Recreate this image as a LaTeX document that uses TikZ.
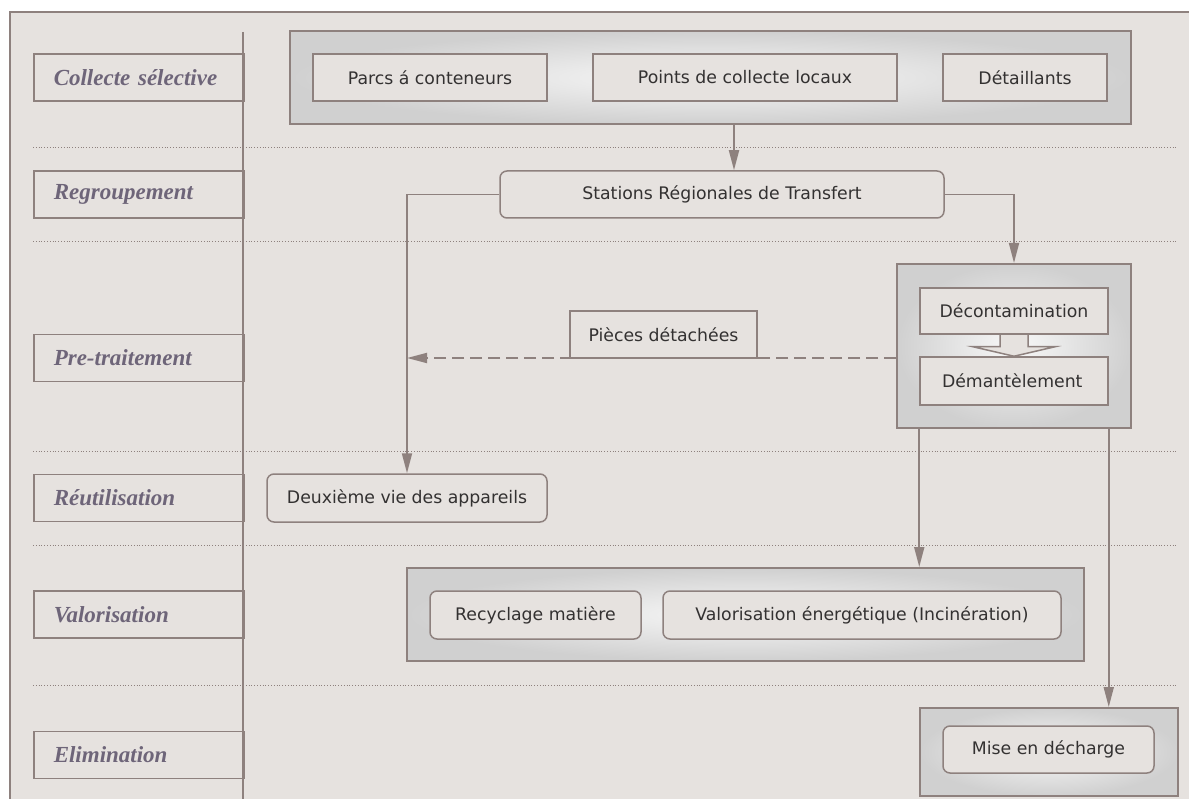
\documentclass[tikz,border=0pt]{standalone}
\usepackage{fontspec}
\setmainfont{DejaVu Sans}
\newfontfamily\labfont{Liberation Serif}
\usetikzlibrary{arrows.meta,calc}
\definecolor{bg}{HTML}{E6E2DF}
\definecolor{brd}{HTML}{8E817E}
\definecolor{labc}{HTML}{6E6579}
\definecolor{txt}{HTML}{333131}
\definecolor{shd}{HTML}{D0D0D0}
\definecolor{shl}{HTML}{F8F8F8}
\tikzset{
  lab/.style={draw=brd, line width=1.5pt, fill=bg, minimum height=47pt, text width=170pt,
    inner xsep=20pt, inner ysep=0pt, align=left, anchor=west,
    font=\labfont\bfseries\itshape\fontsize{23}{26}\selectfont, text=labc},
  box/.style={draw=brd, line width=1.5pt, fill=bg, minimum height=47pt, inner sep=0pt,
    font=\fontsize{17.3}{20}\selectfont, text=txt},
  rbox/.style={box, rounded corners=7pt},
  grp/.style={draw=brd, line width=2pt, inner color=shl, outer color=shd, inner sep=0pt},
  conn/.style={draw=brd, line width=1.8pt, -{Triangle[length=20pt,width=10pt]}},
  sepline/.style={draw=brd, dotted, line width=0.8pt}
}
\begin{document}
\begin{tikzpicture}[x=1pt,y=-1pt]
\useasboundingbox (0,0) rectangle (1189,799);
\clip (0,0) rectangle (1189,799);
\fill[white] (0,0) rectangle (1189,799);
\draw[draw=brd, fill=bg, line width=2pt] (10,12) rectangle (1210,820);
% separators
\foreach \yy in {147,241,451.5,545,685}{\draw[sepline] (33,\yy) -- (1176,\yy);}
% row labels
\node[lab] (l1) at (33,77.5) {Collecte sélective};
\node[lab] (l2) at (33,194.5) {Regroupement};
\node[lab] (l3) at (33,358) {Pre-traitement};
\node[lab] (l4) at (33,498) {Réutilisation};
\node[lab] (l5) at (33,614.5) {Valorisation};
\node[lab] (l6) at (33,755) {Elimination};
\coordinate (vt) at (243,32);
\coordinate (vb) at (243,800);
\draw[draw=brd, line width=2pt] (vt) -- (vb);
% groups
\node[grp, minimum width=841pt, minimum height=93pt] (coll) at (710.5,77.5) {};
\node[box, minimum width=234pt] (parcs) at (430,77.5) {Parcs á conteneurs};
\node[box, minimum width=304pt] (points) at (745,77.5) {Points de collecte locaux};
\node[box, minimum width=164pt] (detail) at (1025,77.5) {Détaillants};
\node[rbox, minimum width=444pt] (st) at (722,194.5) {Stations Régionales de Transfert};
\node[grp, minimum width=234pt, minimum height=164pt] (pre) at (1014,346) {};
\node[box, minimum width=188pt, minimum height=46pt] (deco) at (1014,311) {Décontamination};
\node[box, minimum width=188pt, minimum height=48pt, text width=144pt, inner xsep=22pt, align=left] (dem) at (1014,381) {Démantèlement};
\draw[draw=brd, line width=1.5pt, fill=bg] ($(deco.south)+(-14,0)$) -- ++(0,12) -- ++(-27,0)
  -- (dem.north) -- ($(deco.south)+(41,12)$) -- ++(-27,0) -- ($(deco.south)+(14,0)$);
\draw[draw=brd, line width=1.5pt] (deco.south west) -- (deco.south east);
\node[rbox, minimum width=280pt, minimum height=48pt] (deux) at (407,498) {Deuxième vie des appareils};
\node[grp, minimum width=677pt, minimum height=93pt] (valo) at (745.5,614.5) {};
\node[rbox, minimum width=211pt, minimum height=48pt] (recy) at (535.5,615) {Recyclage matière};
\node[rbox, minimum width=398pt, minimum height=48pt] (vener) at (862,615) {Valorisation énergétique (Incinération)};
\node[grp, minimum width=258pt, minimum height=88pt] (elim) at (1049,752) {};
\node[rbox, minimum width=211pt, minimum height=47pt] (mise) at (1048.5,749.5) {Mise en décharge};
% connectors
\coordinate (ax) at (734,0);
\draw[conn] (coll.south -| ax) -- (st.north -| ax);
\draw[conn] (st.west) -| (deux.north);
\draw[conn] (st.east) -| (pre.north);
\draw[conn] (deco.west |- pre.south) -- (deco.west |- valo.north);
\draw[conn] (deco.east |- pre.south) -- (deco.east |- elim.north);
\coordinate (dy) at (0,358);
\draw[conn, dash pattern=on 12pt off 6pt] (pre.west |- dy) -- (deux.north |- dy);
\node[box, minimum width=187pt, minimum height=47pt] (pd) at (663.5,334.5) {Pièces détachées};
\end{tikzpicture}
\end{document}
